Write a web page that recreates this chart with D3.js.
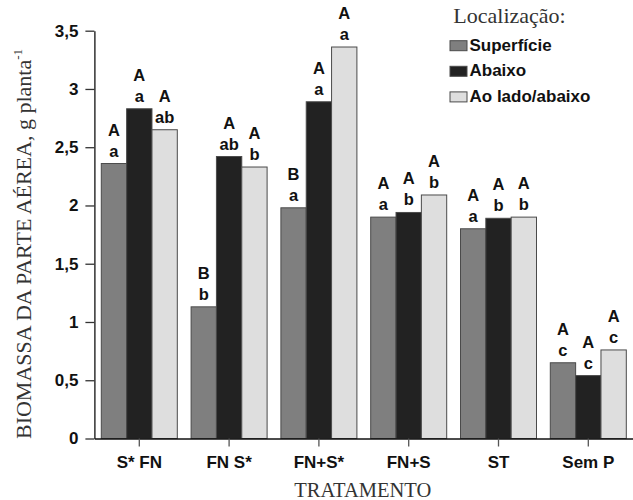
<!DOCTYPE html>
<html>
<head>
<meta charset="utf-8">
<script src="https://cdn.jsdelivr.net/npm/d3@7"></script>
<style>
  html, body { margin: 0; padding: 0; background: #fff; }
  svg { display: block; }
</style>
</head>
<body>
<svg id="chart" width="633" height="500"></svg>
<script>
const categories = ["S* FN", "FN S*", "FN+S*", "FN+S", "ST", "Sem P"];
const seriesNames = ["Superfície", "Abaixo", "Ao lado/abaixo"];
const superficie = [2.36, 1.13, 1.98, 1.90, 1.80, 0.65];
const abaixo     = [2.83, 2.42, 2.89, 1.94, 1.89, 0.54];
const aoLado     = [2.65, 2.33, 3.36, 2.09, 1.90, 0.76];
const upperSuperficie = ["A", "B", "B", "A", "A", "A"];
const upperAbaixo     = ["A", "A", "A", "A", "A", "A"];
const upperAoLado     = ["A", "A", "A", "A", "A", "A"];
const lowerSuperficie = ["a", "b", "a", "a", "a", "c"];
const lowerAbaixo     = ["a", "ab", "a", "b", "b", "c"];
const lowerAoLado     = ["ab", "b", "a", "b", "b", "c"];
const yTicks = [0, 0.5, 1, 1.5, 2, 2.5, 3, 3.5];
const colors = ["#7f7f7f", "#222222", "#dedede"];

const seriesValues = [superficie, abaixo, aoLado];
const seriesUpper = [upperSuperficie, upperAbaixo, upperAoLado];
const seriesLower = [lowerSuperficie, lowerAbaixo, lowerAoLado];

const svg = d3.select("#chart");
const sans = "'Liberation Sans', Arial, sans-serif";
const serif = "'Liberation Serif', 'Times New Roman', serif";

const y = d3.scaleLinear().domain([0, 3.5]).range([438.5, 30.7]);
const x = d3.scaleBand().domain(categories).range([94.4, 633.2]).padding(0);
const groupW = 76;
const xs = d3.scaleBand().domain(seriesNames).range([-groupW / 2, groupW / 2]).padding(0);

const data = [];
categories.forEach((c, i) => {
  seriesNames.forEach((s, j) => {
    data.push({ cat: c, ser: s, j: j, v: seriesValues[j][i], up: seriesUpper[j][i], lo: seriesLower[j][i] });
  });
});

const cx = d => x(d.cat) + x.bandwidth() / 2 + xs(d.ser);

svg.append("g").selectAll("rect").data(data).join("rect")
  .attr("x", d => cx(d))
  .attr("y", d => y(d.v))
  .attr("width", xs.bandwidth())
  .attr("height", d => y(0) - y(d.v))
  .attr("fill", d => colors[d.j])
  .attr("stroke", "#4a4a4a")
  .attr("stroke-width", 1);

const ann = svg.append("g").attr("font-family", sans).attr("font-weight", "bold")
  .attr("font-size", 16.5).attr("text-anchor", "middle").attr("fill", "#111");
ann.selectAll("text.lo").data(data).join("text").attr("class", "lo")
  .attr("x", d => cx(d) + xs.bandwidth() / 2)
  .attr("y", d => y(d.v) - 7)
  .text(d => d.lo);
ann.selectAll("text.up").data(data).join("text").attr("class", "up")
  .attr("x", d => cx(d) + xs.bandwidth() / 2)
  .attr("y", d => y(d.v) - 28)
  .text(d => d.up);

const yAxis = svg.append("g").attr("transform", "translate(94.4,0)")
  .call(d3.axisLeft(y).tickValues(yTicks).tickSize(9).tickSizeOuter(0).tickPadding(7)
    .tickFormat(d => String(d).replace(".", ",")));
yAxis.select(".domain").attr("stroke", "#111").attr("stroke-width", 1.3);
yAxis.selectAll(".tick line").attr("stroke", "#333").attr("stroke-width", 1.3);
yAxis.selectAll(".tick text").attr("font-family", sans).attr("font-weight", "bold")
  .attr("font-size", 17).attr("fill", "#111");

const xAxis = svg.append("g").attr("transform", `translate(0,${y(0)})`)
  .call(d3.axisBottom(x).tickSize(8).tickSizeOuter(0).tickPadding(9));
xAxis.select(".domain").attr("stroke", "#111").attr("stroke-width", 1.3);
xAxis.selectAll(".tick line").attr("stroke", "#555").attr("stroke-width", 1.3);
xAxis.selectAll(".tick text").attr("font-family", sans).attr("font-weight", "bold")
  .attr("font-size", 17).attr("fill", "#111");

svg.append("text")
  .attr("x", 362.8).attr("y", 497)
  .attr("text-anchor", "middle")
  .attr("font-family", serif).attr("font-size", 20.5).attr("fill", "#333")
  .text("TRATAMENTO");

const yt = svg.append("text")
  .attr("transform", "translate(31,244) rotate(-90)")
  .attr("text-anchor", "middle")
  .attr("font-family", serif).attr("font-size", 22).attr("fill", "#333");
yt.append("tspan").text("BIOMASSA DA PARTE AÉREA, g planta");
yt.append("tspan").attr("font-size", 13).attr("dy", -9).text("-1");

svg.append("text")
  .attr("x", 453.3).attr("y", 22.7)
  .attr("font-family", serif).attr("font-size", 22).attr("fill", "#333")
  .text("Localização:");

const leg = svg.append("g").selectAll("g").data(seriesNames).join("g")
  .attr("transform", (d, i) => `translate(450,${50.7 + i * 25.6})`);
leg.append("rect").attr("x", 0).attr("y", -10).attr("width", 17).attr("height", 10)
  .attr("fill", (d, i) => colors[i]).attr("stroke", "#4a4a4a").attr("stroke-width", 1);
leg.append("text").attr("x", 19.5).attr("y", 0)
  .attr("font-family", sans).attr("font-weight", "bold").attr("font-size", 17).attr("fill", "#111")
  .text(d => d);
</script>
</body>
</html>
